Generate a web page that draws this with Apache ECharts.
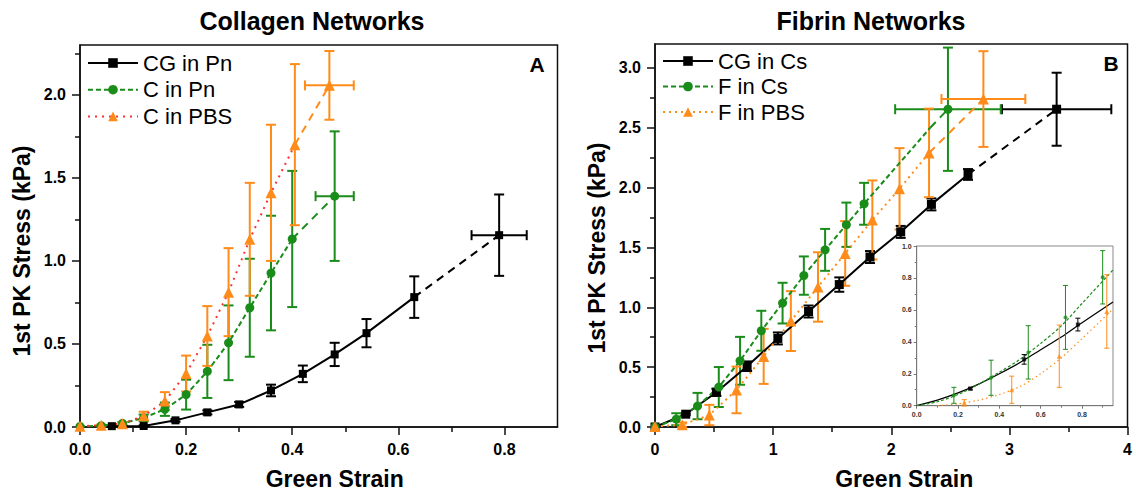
<!DOCTYPE html>
<html>
<head>
<meta charset="utf-8">
<script src="https://cdn.jsdelivr.net/npm/echarts@6/dist/echarts.min.js"></script>
<style>
html, body { margin: 0; padding: 0; background: #fff; }
#networks { width: 1136px; height: 495px; }
</style>
</head>
<body>
<div id="networks"></div>
<script>
//
// Data
//

// A - collagen networks
var cgPnStrain = [0.06, 0.12, 0.18, 0.24, 0.30, 0.36, 0.42, 0.48, 0.54, 0.63, 0.79];
var cgPnStress = [0.005, 0.006, 0.04, 0.088, 0.136, 0.22, 0.32, 0.437, 0.565, 0.782, 1.155];
var cgPnErr = [0.004, 0.004, 0.008, 0.012, 0.015, 0.035, 0.05, 0.07, 0.085, 0.125, 0.245];
var cgPnLastStrainErr = 0.052;

var cPnStrain = [0, 0.04, 0.08, 0.12, 0.16, 0.20, 0.24, 0.28, 0.32, 0.36, 0.40, 0.48];
var cPnStress = [0.003, 0.008, 0.022, 0.055, 0.107, 0.195, 0.335, 0.507, 0.718, 0.927, 1.132, 1.39];
var cPnErr = [0, 0.004, 0.008, 0.02, 0.04, 0.09, 0.16, 0.225, 0.295, 0.345, 0.41, 0.39];
var cPnLastStrainErr = 0.036;

var cPbsStrain = [0, 0.04, 0.08, 0.12, 0.16, 0.20, 0.24, 0.28, 0.32, 0.36, 0.405, 0.47];
var cPbsStress = [0.005, 0.01, 0.02, 0.067, 0.156, 0.322, 0.548, 0.812, 1.13, 1.41, 1.70, 2.057];
var cPbsErr = [0, 0.005, 0.01, 0.025, 0.054, 0.108, 0.18, 0.265, 0.34, 0.41, 0.485, 0.207];
var cPbsLastStrainErr = 0.046;

// B - fibrin networks
var cgCsStrain = [0, 0.26, 0.52, 0.78, 1.04, 1.30, 1.56, 1.82, 2.08, 2.34, 2.65, 3.40];
var cgCsStress = [0, 0.107, 0.29, 0.508, 0.74, 0.965, 1.19, 1.42, 1.63, 1.86, 2.11, 2.655];
var cgCsErr = [0, 0.008, 0.03, 0.04, 0.05, 0.05, 0.06, 0.05, 0.05, 0.05, 0.045, 0.305];
var cgCsLastStrainErr = 0.463;

var fCsStrain = [0, 0.18, 0.36, 0.54, 0.72, 0.90, 1.08, 1.26, 1.44, 1.62, 1.77, 2.48];
var fCsStress = [0, 0.065, 0.175, 0.334, 0.553, 0.804, 1.035, 1.265, 1.48, 1.69, 1.865, 2.655];
var fCsErr = [0, 0.05, 0.11, 0.167, 0.2, 0.167, 0.17, 0.16, 0.175, 0.185, 0.175, 0.515];
var fCsLastStrainErr = 0.447;
var fCsBend = [2.33, 2.5];

var fPbsStrain = [0, 0.23, 0.46, 0.69, 0.92, 1.15, 1.38, 1.61, 1.84, 2.07, 2.32, 2.78];
var fPbsStress = [0.005, 0.018, 0.10, 0.31, 0.59, 0.885, 1.17, 1.45, 1.73, 1.99, 2.29, 2.74];
var fPbsErr = [0, 0.02, 0.085, 0.195, 0.23, 0.25, 0.29, 0.27, 0.33, 0.34, 0.37, 0.40];
var fPbsLastStrainErr = 0.355;

// B inset - fitted curves
var cgCsFitStrain = [0, 0.1, 0.2, 0.3, 0.4, 0.5, 0.6, 0.7, 0.8, 0.95];
var cgCsFitStress = [0, 0.035, 0.08, 0.135, 0.2, 0.27, 0.35, 0.43, 0.52, 0.65];
var fCsFitStrain = [0, 0.1, 0.2, 0.3, 0.4, 0.5, 0.6, 0.7, 0.8, 0.95];
var fCsFitStress = [0, 0.025, 0.07, 0.135, 0.21, 0.29, 0.39, 0.5, 0.64, 0.85];
var fPbsFitStrain = [0.1, 0.2, 0.3, 0.4, 0.5, 0.6, 0.7, 0.8, 0.95];
var fPbsFitStress = [0, 0.012, 0.035, 0.07, 0.12, 0.2, 0.3, 0.42, 0.605];

// Ticks
var aStrainTicks = [0, 0.2, 0.4, 0.6, 0.8];
var aStrainMinor = [0.1, 0.3, 0.5, 0.7];
var aStressTicks = [0, 0.5, 1.0, 1.5, 2.0];
var aStressMinor = [0.25, 0.75, 1.25, 1.75, 2.25];
var bStrainTicks = [0, 1, 2, 3, 4];
var bStrainMinor = [0.5, 1.5, 2.5, 3.5];
var bStressTicks = [0, 0.5, 1.0, 1.5, 2.0, 2.5, 3.0];
var bStressMinor = [0.25, 0.75, 1.25, 1.75, 2.25, 2.75];
var insetStrainTicks = [0, 0.2, 0.4, 0.6, 0.8];
var insetStrainMinor = [0.1, 0.3, 0.5, 0.7, 0.9];
var insetStressTicks = [0, 0.2, 0.4, 0.6, 0.8, 1.0];
var insetStressMinor = [0.1, 0.3, 0.5, 0.7, 0.9];


//
// Helpers
//

var FONT = '"Liberation Sans", Arial, Helvetica, sans-serif';
var BLACK = '#000000', GREEN = '#1a8c1a', ORANGE = '#ff8c1a', RED = '#ff3030';

var pairs = function(xs, ys) {
    return xs.map(function(x, i) { return [x, ys[i]]; });
};

var barRows = function(xs, ys, err, lastXErr) {
    return xs.map(function(x, i) {
        return [x, ys[i], err[i], i === xs.length - 1 ? lastXErr : 0];
    });
};

var fixed = function(d) {
    return function(v) { return v.toFixed(d); };
};

// Major axis with labels
var majorAxis = function(grid, min, max, ticks, digits, opts) {
    return {
        type: 'value', gridIndex: grid, min: min, max: max, position: opts.position,
        name: opts.name || '', nameLocation: 'middle', nameGap: opts.nameGap || 0,
        nameTextStyle: {
            fontFamily: FONT, fontSize: opts.nameSize || 23, fontWeight: 'bold', color: '#000',
            padding: opts.namePadding || 0
        },
        axisLine: { show: true, onZero: false, lineStyle: { color: opts.lineColor || '#111', width: opts.lineWidth || 1.5 } },
        axisTick: { show: true, inside: false, length: opts.tickLen || 8, customValues: ticks,
            lineStyle: { color: opts.lineColor || '#111', width: opts.lineWidth || 1.5 } },
        axisLabel: { customValues: ticks, formatter: fixed(digits), margin: opts.margin || 14,
            fontFamily: FONT, fontSize: opts.labelSize || 16, fontWeight: 'bold', color: opts.labelColor || '#000' },
        splitLine: { show: false }
    };
};

// Overlay axis carrying only the minor ticks
var minorAxis = function(grid, min, max, ticks, position, len, color, width) {
    return {
        type: 'value', gridIndex: grid, min: min, max: max, position: position,
        axisLine: { show: false },
        axisLabel: { show: false },
        axisTick: { show: true, inside: false, length: len, customValues: ticks,
            lineStyle: { color: color, width: width } },
        splitLine: { show: false }
    };
};

// Error bars drawn as a custom series
var errorBars = function(axis, rows, color, cap, width, z) {
    return {
        type: 'custom', xAxisIndex: axis, yAxisIndex: axis, data: rows, z: z || 3,
        encode: { x: 0, y: 1 }, silent: true,
        renderItem: function(params, api) {
            var x = api.value(0), y = api.value(1), ey = api.value(2), ex = api.value(3);
            var style = { stroke: color, lineWidth: width, fill: null };
            var kids = [];
            var seg = function(a, b) {
                kids.push({ type: 'line', shape: { x1: a[0], y1: a[1], x2: b[0], y2: b[1] }, style: style });
            };
            if (ey > 0) {
                var t = api.coord([x, y + ey]), b = api.coord([x, y - ey]);
                seg(t, b);
                seg([t[0] - cap, t[1]], [t[0] + cap, t[1]]);
                seg([b[0] - cap, b[1]], [b[0] + cap, b[1]]);
            }
            if (ex > 0) {
                var l = api.coord([x - ex, y]), r = api.coord([x + ex, y]);
                seg(l, r);
                seg([l[0], l[1] - cap], [l[0], l[1] + cap]);
                seg([r[0], r[1] - cap], [r[0], r[1] + cap]);
            }
            return { type: 'group', children: kids };
        }
    };
};

var mainLine = function(name, axis, pts, color, lineColor, symbol, size, dash) {
    return {
        name: name, type: 'line', xAxisIndex: axis, yAxisIndex: axis, data: pts,
        symbol: symbol, symbolSize: size, showSymbol: true, z: 4,
        itemStyle: { color: color },
        lineStyle: { color: lineColor, width: 2, type: dash }
    };
};

var tailLine = function(axis, from, to, color, symbol, size) {
    return {
        type: 'line', xAxisIndex: axis, yAxisIndex: axis, z: 4,
        data: [{ value: from, symbol: 'none' }, to],
        symbol: symbol, symbolSize: size,
        itemStyle: { color: color },
        lineStyle: { color: color, width: 2, type: [8, 6] }
    };
};

var insetFit = function(xs, ys, color, dash) {
    return {
        type: 'line', xAxisIndex: 4, yAxisIndex: 4, data: pairs(xs, ys), z: 6,
        symbol: 'none', smooth: 0.3,
        lineStyle: { color: color, width: 1.2, type: dash }
    };
};

var insetPick = function(xs, ys, err) {
    var rows = [];
    xs.forEach(function(x, i) {
        if (x > 0 && x <= 0.95) rows.push([x, ys[i], err[i], 0]);
    });
    return rows;
};

var insetMarks = function(rows, color, symbol, size) {
    return {
        type: 'scatter', xAxisIndex: 4, yAxisIndex: 4, z: 8,
        data: rows.map(function(r) { return [r[0], r[1]]; }),
        symbol: symbol, symbolSize: size, itemStyle: { color: color }
    };
};


//
// Chart
//

var chartEl = document.getElementById('networks');
var chart = echarts.init(chartEl, null, { renderer: 'svg' });

var cgPn = pairs(cgPnStrain, cgPnStress);
var cPn = pairs(cPnStrain, cPnStress);
var cPbs = pairs(cPbsStrain, cPbsStress);
var cgCs = pairs(cgCsStrain, cgCsStress);
var fCs = pairs(fCsStrain, fCsStress);
var fPbs = pairs(fPbsStrain, fPbsStress);

var fCsMain = fCs.slice(0, -1).concat([{ value: fCsBend, symbol: 'none' }]);

var insetCg = insetPick(cgCsStrain, cgCsStress, cgCsErr);
var insetFc = insetPick(fCsStrain, fCsStress, fCsErr);
var insetFp = insetPick(fPbsStrain, fPbsStress, fPbsErr);

// axis indices: 0/1 panel A (major/minor), 2/3 panel B, 4/5 inset
var A = 0, B = 2, INSET = 4;

chart.setOption({
    animation: false,
    textStyle: { fontFamily: FONT },

    grid: [
        { left: 80, top: 45, width: 477.5, height: 388.3, show: true, borderColor: '#111', borderWidth: 1.5 },
        { left: 655, top: 44, width: 472.5, height: 383.3, show: true, borderColor: '#111', borderWidth: 1.5 },
        { left: 916.7, top: 246, width: 196.3, height: 159.7, show: true, backgroundColor: '#fff',
          borderColor: '#888', borderWidth: 1 }
    ],

    xAxis: [
        majorAxis(0, 0, 0.9, aStrainTicks, 1, { position: 'bottom', name: 'Green Strain', nameGap: 40, namePadding: [0, 0, 0, 32] }),
        minorAxis(0, 0, 0.9, aStrainMinor, 'bottom', 5, '#111', 1.5),
        majorAxis(1, 0, 4, bStrainTicks, 0, { position: 'bottom', name: 'Green Strain', nameGap: 40, namePadding: [0, 0, 0, 26] }),
        minorAxis(1, 0, 4, bStrainMinor, 'bottom', 5, '#111', 1.5),
        majorAxis(2, 0, 0.95, insetStrainTicks, 1, { position: 'bottom', tickLen: 3, lineColor: '#777', lineWidth: 1,
            labelSize: 7, labelColor: '#333', margin: 5 }),
        minorAxis(2, 0, 0.95, insetStrainMinor, 'bottom', 2, '#777', 1)
    ],

    yAxis: [
        majorAxis(0, 0, 2.3, aStressTicks, 1, { position: 'left', name: '1st PK Stress (kPa)', nameGap: 47, namePadding: [0, 30, 0, 0] }),
        minorAxis(0, 0, 2.3, aStressMinor, 'left', 5, '#111', 1.5),
        majorAxis(1, 0, 3.2, bStressTicks, 1, { position: 'left', name: '1st PK Stress (kPa)', nameGap: 47, namePadding: [0, 25, 0, 0] }),
        minorAxis(1, 0, 3.2, bStressMinor, 'left', 5, '#111', 1.5),
        majorAxis(2, 0, 1.0, insetStressTicks, 1, { position: 'left', tickLen: 3, lineColor: '#777', lineWidth: 1,
            labelSize: 7, labelColor: '#333', margin: 5 }),
        minorAxis(2, 0, 1.0, insetStressMinor, 'left', 2, '#777', 1)
    ],

    // Legends
    legend: [
        {
            data: ['CG in Pn', 'C in Pn', 'C in PBS'], orient: 'vertical', left: 87, top: 52,
            padding: 0, itemWidth: 50, itemHeight: 12, itemGap: 4.7, selectedMode: false,
            textStyle: { fontFamily: FONT, fontSize: 22, color: '#000', lineHeight: 22 }
        },
        {
            data: ['CG in Cs', 'F in Cs', 'F in PBS'], orient: 'vertical', left: 662, top: 50,
            padding: 0, itemWidth: 50, itemHeight: 12, itemGap: 3.5, selectedMode: false,
            textStyle: { fontFamily: FONT, fontSize: 22, color: '#000', lineHeight: 22 }
        }
    ],

    // Titles and panel letters
    graphic: [
        { type: 'text', x: 312, y: 21, style: { text: 'Collagen Networks', fill: '#000', font: 'bold 25px ' + FONT,
            textAlign: 'center', textVerticalAlign: 'middle', align: 'center', verticalAlign: 'middle' } },
        { type: 'text', x: 871, y: 21, style: { text: 'Fibrin Networks', fill: '#000', font: 'bold 25px ' + FONT,
            textAlign: 'center', textVerticalAlign: 'middle', align: 'center', verticalAlign: 'middle' } },
        { type: 'text', x: 537, y: 64, style: { text: 'A', fill: '#000', font: 'bold 21px ' + FONT,
            textAlign: 'center', textVerticalAlign: 'middle', align: 'center', verticalAlign: 'middle' } },
        { type: 'text', x: 1111, y: 63, style: { text: 'B', fill: '#000', font: 'bold 21px ' + FONT,
            textAlign: 'center', textVerticalAlign: 'middle', align: 'center', verticalAlign: 'middle' } }
    ],

    series: [
        // A
        errorBars(A, barRows(cgPnStrain, cgPnStress, cgPnErr, cgPnLastStrainErr), BLACK, 5, 2),
        errorBars(A, barRows(cPnStrain, cPnStress, cPnErr, cPnLastStrainErr), GREEN, 5, 2),
        errorBars(A, barRows(cPbsStrain, cPbsStress, cPbsErr, cPbsLastStrainErr), ORANGE, 5, 2),
        mainLine('CG in Pn', A, cgPn.slice(0, -1), BLACK, BLACK, 'rect', 8, 'solid'),
        tailLine(A, cgPn[cgPn.length - 2], cgPn[cgPn.length - 1], BLACK, 'rect', 8),
        mainLine('C in Pn', A, cPn.slice(0, -1), GREEN, GREEN, 'circle', 9, [5, 3]),
        tailLine(A, cPn[cPn.length - 2], cPn[cPn.length - 1], GREEN, 'circle', 9),
        mainLine('C in PBS', A, cPbs.slice(0, -1), ORANGE, RED, 'triangle', 11, [2, 5]),
        tailLine(A, cPbs[cPbs.length - 2], cPbs[cPbs.length - 1], ORANGE, 'triangle', 11),

        // B
        errorBars(B, barRows(cgCsStrain, cgCsStress, cgCsErr, cgCsLastStrainErr), BLACK, 5, 2),
        errorBars(B, barRows(fCsStrain, fCsStress, fCsErr, fCsLastStrainErr), GREEN, 5, 2),
        errorBars(B, barRows(fPbsStrain, fPbsStress, fPbsErr, fPbsLastStrainErr), ORANGE, 5, 2),
        mainLine('CG in Cs', B, cgCs.slice(0, -1), BLACK, BLACK, 'rect', 9, 'solid'),
        tailLine(B, cgCs[cgCs.length - 2], cgCs[cgCs.length - 1], BLACK, 'rect', 9),
        mainLine('F in Cs', B, fCsMain, GREEN, GREEN, 'circle', 9, [5, 3]),
        tailLine(B, fCsBend, fCs[fCs.length - 1], GREEN, 'circle', 9),
        mainLine('F in PBS', B, fPbs.slice(0, -1), ORANGE, ORANGE, 'triangle', 11, [2, 4]),
        tailLine(B, fPbs[fPbs.length - 2], fPbs[fPbs.length - 1], ORANGE, 'triangle', 11),

        // B inset
        insetFit(cgCsFitStrain, cgCsFitStress, BLACK, 'solid'),
        insetFit(fCsFitStrain, fCsFitStress, GREEN, [3, 2]),
        insetFit(fPbsFitStrain, fPbsFitStress, ORANGE, [1.5, 3]),
        errorBars(INSET, insetCg, BLACK, 2.5, 1, 7),
        errorBars(INSET, insetFc, GREEN, 2.5, 1, 7),
        errorBars(INSET, insetFp, ORANGE, 2.5, 1, 7),
        insetMarks(insetCg, BLACK, 'rect', 4),
        insetMarks(insetFc, GREEN, 'circle', 4),
        insetMarks(insetFp, ORANGE, 'triangle', 5)
    ]
});


//
// Resize chart
//

window.addEventListener('resize', function() {
    chart.resize();
});
</script>
</body>
</html>
